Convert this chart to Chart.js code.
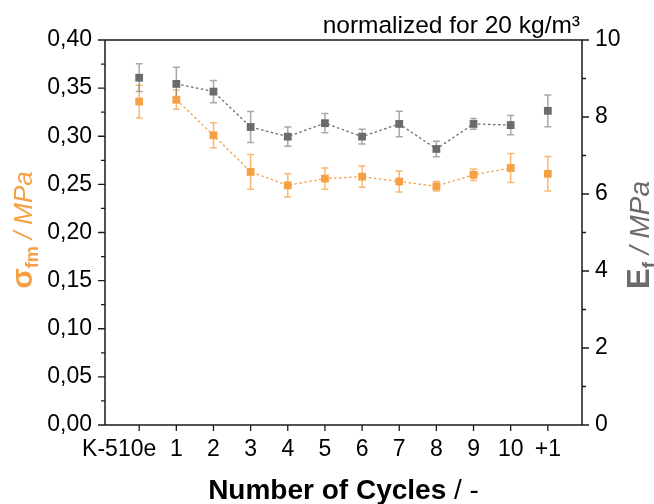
<!DOCTYPE html>
<html>
<head>
<meta charset="utf-8">
<script src="https://cdn.jsdelivr.net/npm/chart.js@4/dist/chart.umd.min.js"></script>
<style>
html,body{margin:0;padding:0;background:#fff;}
canvas{display:block;}
</style>
</head>
<body>
<canvas id="c" width="654" height="504"></canvas>
<script>
const categories = ['K-510e','1','2','3','4','5','6','7','8','9','10','+1'];
const sigmaValues = [0.336,0.338,0.301,0.263,0.249,0.256,0.258,0.253,0.248,0.260,0.267,0.261];
const sigmaErrors = [0.017,0.010,0.013,0.018,0.012,0.011,0.011,0.011,0.005,0.006,0.015,0.018];
const modulusValues = [9.02,8.86,8.66,7.74,7.49,7.84,7.49,7.82,7.17,7.82,7.79,8.16];
const modulusErrors = [0.36,0.43,0.29,0.40,0.25,0.25,0.19,0.33,0.20,0.14,0.25,0.41];
const leftTicks = [0,0.05,0.10,0.15,0.20,0.25,0.30,0.35,0.40];
const rightTicks = [0,2,4,6,8,10];

const ORANGE = '#F5A044';
const ORANGE_ERR = 'rgba(245,160,68,0.75)';
const GREY = '#6B6B6B';
const GREY_ERR = 'rgba(110,110,110,0.6)';
const FONT = "'Liberation Sans', Arial, sans-serif";
const TICK_SIZE = 23;

const lastIdx = categories.length - 1;
function seg(color){
  return {
    borderColor: ctx => (ctx.p0DataIndex === 0 || ctx.p1DataIndex === lastIdx) ? 'rgba(0,0,0,0)' : color
  };
}

const shiftPlugin = {
  id: 'shiftFirstLabel',
  beforeDraw(chart) {
    const items = chart.scales.x.getLabelItems(chart.chartArea);
    if (items && items[0] && !items[0]._shifted) {
      items[0].options.translation[0] -= 20;
      items[0]._shifted = true;
    }
  }
};

const errorPlugin = {
  id: 'errs',
  beforeDatasetsDraw(chart) {
    const ctx = chart.ctx;
    const x = chart.scales.x;
    const sets = [
      {vals: sigmaValues, errs: sigmaErrors, scale: chart.scales.y, color: ORANGE_ERR},
      {vals: modulusValues, errs: modulusErrors, scale: chart.scales.y2, color: GREY_ERR}
    ];
    ctx.save();
    ctx.lineWidth = 1.5;
    sets.forEach(s => {
      ctx.strokeStyle = s.color;
      s.vals.forEach((v, i) => {
        const px = x.getPixelForValue(i);
        const t = s.scale.getPixelForValue(v + s.errs[i]);
        const b = s.scale.getPixelForValue(v - s.errs[i]);
        ctx.beginPath();
        ctx.moveTo(px, t); ctx.lineTo(px, b);
        ctx.moveTo(px - 3.5, t); ctx.lineTo(px + 3.5, t);
        ctx.moveTo(px - 3.5, b); ctx.lineTo(px + 3.5, b);
        ctx.stroke();
      });
    });
    ctx.restore();
  }
};

function drawParts(ctx, parts, cx, cy) {
  let total = 0;
  parts.forEach(p => { ctx.font = p.font; p.w = ctx.measureText(p.text).width; total += p.w; });
  let xx = cx - total / 2;
  parts.forEach(p => {
    ctx.font = p.font;
    ctx.fillStyle = p.color;
    ctx.fillText(p.text, xx, cy + (p.dy || 0));
    xx += p.w;
  });
}

const framePlugin = {
  id: 'frame',
  afterDraw(chart) {
    const ctx = chart.ctx;
    const a = chart.chartArea;
    const y = chart.scales.y, y2 = chart.scales.y2, x = chart.scales.x;
    ctx.save();
    ctx.strokeStyle = '#1a1a1a';
    ctx.lineWidth = 1.5;
    ctx.beginPath();
    ctx.moveTo(a.left, a.top); ctx.lineTo(a.right, a.top);
    ctx.moveTo(a.left, a.top); ctx.lineTo(a.left, a.bottom);
    ctx.moveTo(a.right, a.top); ctx.lineTo(a.right, a.bottom);
    ctx.moveTo(a.left, a.bottom); ctx.lineTo(a.right, a.bottom);
    ctx.stroke();
    ctx.lineWidth = 1.3;
    ctx.beginPath();
    for (let i = 0; i < leftTicks.length; i++) {
      const py = y.getPixelForValue(leftTicks[i]);
      ctx.moveTo(a.left - 7, py); ctx.lineTo(a.left, py);
      if (i < leftTicks.length - 1) {
        const pm = y.getPixelForValue((leftTicks[i] + leftTicks[i+1]) / 2);
        ctx.moveTo(a.left - 4, pm); ctx.lineTo(a.left, pm);
      }
    }
    for (let i = 0; i < rightTicks.length; i++) {
      const py = y2.getPixelForValue(rightTicks[i]);
      ctx.moveTo(a.right, py); ctx.lineTo(a.right + 7, py);
      if (i < rightTicks.length - 1) {
        const pm = y2.getPixelForValue((rightTicks[i] + rightTicks[i+1]) / 2);
        ctx.moveTo(a.right, pm); ctx.lineTo(a.right + 4, pm);
      }
    }
    categories.forEach((c, i) => {
      const px = x.getPixelForValue(i);
      ctx.moveTo(px, a.bottom); ctx.lineTo(px, a.bottom + 6);
    });
    ctx.stroke();

    ctx.textBaseline = 'alphabetic';
    // top note
    ctx.font = '24.5px ' + FONT;
    ctx.fillStyle = '#000';
    ctx.textAlign = 'right';
    ctx.fillText('normalized for 20 kg/m³', a.right - 2, 33);
    ctx.textAlign = 'left';

    // x title
    drawParts(ctx, [
      {text: 'Number of Cycles', font: 'bold 28px ' + FONT, color: '#000'},
      {text: ' / -', font: '28px ' + FONT, color: '#000'}
    ], (a.left + a.right) / 2, 499);

    // left title
    ctx.save();
    ctx.translate(32, 230);
    ctx.rotate(-Math.PI / 2);
    drawParts(ctx, [
      {text: 'σ', font: 'bold 30px ' + FONT, color: ORANGE},
      {text: 'fm', font: 'bold 18px ' + FONT, color: ORANGE, dy: 6},
      {text: ' / MPa', font: 'italic 26px ' + FONT, color: ORANGE}
    ], 0, 0);
    ctx.restore();

    // right title
    ctx.save();
    ctx.translate(649, 235);
    ctx.rotate(-Math.PI / 2);
    drawParts(ctx, [
      {text: 'E', font: 'bold 31px ' + FONT, color: GREY},
      {text: 'f', font: 'bold 19px ' + FONT, color: GREY, dy: 6},
      {text: ' / MPa', font: 'italic 28px ' + FONT, color: GREY}
    ], 0, 0);
    ctx.restore();
    ctx.restore();
  }
};

new Chart(document.getElementById('c'), {
  type: 'line',
  data: {
    datasets: [
      {
        label: 'sigma',
        data: sigmaValues.map((v, i) => ({x: i, y: v})),
        yAxisID: 'y',
        borderColor: ORANGE,
        backgroundColor: ORANGE,
        borderWidth: 1.3,
        borderDash: [2.5, 2.5],
        pointStyle: 'rect',
        pointRadius: 5.5,
        pointHoverRadius: 5.5,
        pointBorderWidth: 0,
        pointBackgroundColor: ORANGE,
        segment: seg(ORANGE),
        order: 1
      },
      {
        label: 'E',
        data: modulusValues.map((v, i) => ({x: i, y: v})),
        yAxisID: 'y2',
        borderColor: GREY,
        backgroundColor: GREY,
        borderWidth: 1.3,
        borderDash: [2.5, 2.5],
        pointStyle: 'rect',
        pointRadius: 5.5,
        pointHoverRadius: 5.5,
        pointBorderWidth: 0,
        pointBackgroundColor: GREY,
        segment: seg(GREY),
        order: 2
      }
    ]
  },
  options: {
    responsive: false,
    animation: false,
    devicePixelRatio: 1,
    layout: {padding: {top: 40, left: 0, right: 0, bottom: 0}},
    plugins: {legend: {display: false}, tooltip: {enabled: false}},
    scales: {
      x: {
        type: 'linear',
        min: -0.92,
        max: 11.92,
        afterBuildTicks: s => { s.ticks = categories.map((c, i) => ({value: i})); },
        afterFit: s => { s.height = 79; },
        grid: {display: false, drawTicks: false},
        border: {display: false},
        ticks: {
          callback: v => categories[v],
          autoSkip: false,
          maxRotation: 0,
          padding: 11,
          color: '#000',
          font: {family: FONT, size: TICK_SIZE}
        }
      },
      y: {
        position: 'left',
        min: 0,
        max: 0.40,
        afterBuildTicks: s => { s.ticks = leftTicks.map(v => ({value: v})); },
        afterFit: s => { s.width = 105; },
        grid: {display: false, drawTicks: false},
        border: {display: false},
        ticks: {
          callback: v => v.toFixed(2).replace('.', ','),
          padding: 13,
          color: '#000',
          font: {family: FONT, size: TICK_SIZE}
        }
      },
      y2: {
        position: 'right',
        min: 0,
        max: 10,
        afterBuildTicks: s => { s.ticks = rightTicks.map(v => ({value: v})); },
        afterFit: s => { s.width = 72; },
        grid: {display: false, drawTicks: false},
        border: {display: false},
        ticks: {
          callback: v => String(v),
          padding: 13,
          color: '#000',
          font: {family: FONT, size: TICK_SIZE}
        }
      }
    }
  },
  plugins: [shiftPlugin, errorPlugin, framePlugin]
});
</script>
</body>
</html>
